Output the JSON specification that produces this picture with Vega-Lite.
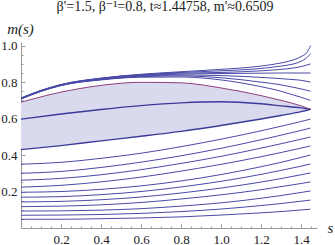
{
  "$schema": "https://vega.github.io/schema/vega-lite/v6.json",
  "width": 296,
  "height": 186,
  "autosize": "none",
  "padding": {"left": 21, "top": 42, "right": 18, "bottom": 17},
  "background": "white",
  "title": {"text": "β'=1.5, β⁻¹=0.8, t≈1.44758, m'≈0.6509", "font": "Liberation Serif, DejaVu Serif, serif", "fontSize": 14, "fontWeight": "normal", "color": "#222222", "anchor": "middle", "frame": "group", "offset": 7, "dx": -4},
  "config": {"view": {"stroke": null}, "axis": {"grid": false}},
  "datasets": {
    "area": [
      {"s": 0, "m": 0.43, "m2": 0.69},
      {"s": 0.2, "m": 0.452, "m2": 0.745},
      {"s": 0.4, "m": 0.478, "m2": 0.782},
      {"s": 0.6, "m": 0.503, "m2": 0.799},
      {"s": 0.8, "m": 0.53, "m2": 0.796},
      {"s": 1.0, "m": 0.562, "m2": 0.768},
      {"s": 1.2, "m": 0.598, "m2": 0.726},
      {"s": 1.3, "m": 0.617, "m2": 0.70},
      {"s": 1.4, "m": 0.638, "m2": 0.67},
      {"s": 1.44758, "m": 0.651, "m2": 0.651}
    ],
    "bound": [
      {"k": "B", "s": 0, "m": 0.43}, {"k": "B", "s": 0.2, "m": 0.452}, {"k": "B", "s": 0.4, "m": 0.478}, {"k": "B", "s": 0.6, "m": 0.503}, {"k": "B", "s": 0.8, "m": 0.53}, {"k": "B", "s": 1.0, "m": 0.562}, {"k": "B", "s": 1.2, "m": 0.598}, {"k": "B", "s": 1.3, "m": 0.617}, {"k": "B", "s": 1.4, "m": 0.638}, {"k": "B", "s": 1.44758, "m": 0.651},
      {"k": "M", "s": 0, "m": 0.597}, {"k": "M", "s": 0.2, "m": 0.625}, {"k": "M", "s": 0.4, "m": 0.65}, {"k": "M", "s": 0.6, "m": 0.671}, {"k": "M", "s": 0.8, "m": 0.686}, {"k": "M", "s": 1.0, "m": 0.692}, {"k": "M", "s": 1.2, "m": 0.681}, {"k": "M", "s": 1.3, "m": 0.67}, {"k": "M", "s": 1.4, "m": 0.659}, {"k": "M", "s": 1.44758, "m": 0.651}
    ],
    "purple": [
      {"s": 0, "m": 0.69}, {"s": 0.2, "m": 0.745}, {"s": 0.4, "m": 0.782}, {"s": 0.6, "m": 0.799}, {"s": 0.8, "m": 0.796}, {"s": 1.0, "m": 0.768}, {"s": 1.2, "m": 0.726}, {"s": 1.3, "m": 0.70}, {"s": 1.4, "m": 0.67}, {"s": 1.44758, "m": 0.651}
    ],
    "upper": [
      {"k": "U1", "s": 0, "m": 0.713}, {"k": "U1", "s": 0.1, "m": 0.755}, {"k": "U1", "s": 0.2, "m": 0.787}, {"k": "U1", "s": 0.4, "m": 0.822}, {"k": "U1", "s": 0.6, "m": 0.843}, {"k": "U1", "s": 0.8, "m": 0.857}, {"k": "U1", "s": 1.0, "m": 0.87}, {"k": "U1", "s": 1.2, "m": 0.888}, {"k": "U1", "s": 1.3, "m": 0.905}, {"k": "U1", "s": 1.36, "m": 0.921}, {"k": "U1", "s": 1.4, "m": 0.94}, {"k": "U1", "s": 1.43, "m": 0.963}, {"k": "U1", "s": 1.44758, "m": 1.0},
      {"k": "U2", "s": 0, "m": 0.712}, {"k": "U2", "s": 0.1, "m": 0.754}, {"k": "U2", "s": 0.2, "m": 0.786}, {"k": "U2", "s": 0.4, "m": 0.821}, {"k": "U2", "s": 0.6, "m": 0.841}, {"k": "U2", "s": 0.8, "m": 0.853}, {"k": "U2", "s": 1.0, "m": 0.862}, {"k": "U2", "s": 1.2, "m": 0.875}, {"k": "U2", "s": 1.3, "m": 0.888}, {"k": "U2", "s": 1.36, "m": 0.899}, {"k": "U2", "s": 1.4, "m": 0.914}, {"k": "U2", "s": 1.43, "m": 0.935}, {"k": "U2", "s": 1.44758, "m": 0.956},
      {"k": "U3", "s": 0, "m": 0.711}, {"k": "U3", "s": 0.1, "m": 0.753}, {"k": "U3", "s": 0.2, "m": 0.785}, {"k": "U3", "s": 0.4, "m": 0.82}, {"k": "U3", "s": 0.6, "m": 0.839}, {"k": "U3", "s": 0.8, "m": 0.849}, {"k": "U3", "s": 1.0, "m": 0.853}, {"k": "U3", "s": 1.2, "m": 0.862}, {"k": "U3", "s": 1.3, "m": 0.87}, {"k": "U3", "s": 1.36, "m": 0.877}, {"k": "U3", "s": 1.4, "m": 0.885}, {"k": "U3", "s": 1.43, "m": 0.894}, {"k": "U3", "s": 1.44758, "m": 0.9},
      {"k": "U4", "s": 0, "m": 0.71}, {"k": "U4", "s": 0.1, "m": 0.752}, {"k": "U4", "s": 0.2, "m": 0.784}, {"k": "U4", "s": 0.4, "m": 0.818}, {"k": "U4", "s": 0.6, "m": 0.836}, {"k": "U4", "s": 0.8, "m": 0.844}, {"k": "U4", "s": 1.0, "m": 0.847}, {"k": "U4", "s": 1.2, "m": 0.849}, {"k": "U4", "s": 1.3, "m": 0.85}, {"k": "U4", "s": 1.36, "m": 0.85}, {"k": "U4", "s": 1.4, "m": 0.85}, {"k": "U4", "s": 1.43, "m": 0.85}, {"k": "U4", "s": 1.44758, "m": 0.85},
      {"k": "U5", "s": 0, "m": 0.709}, {"k": "U5", "s": 0.1, "m": 0.751}, {"k": "U5", "s": 0.2, "m": 0.783}, {"k": "U5", "s": 0.4, "m": 0.816}, {"k": "U5", "s": 0.6, "m": 0.833}, {"k": "U5", "s": 0.8, "m": 0.839}, {"k": "U5", "s": 1.0, "m": 0.836}, {"k": "U5", "s": 1.2, "m": 0.826}, {"k": "U5", "s": 1.3, "m": 0.819}, {"k": "U5", "s": 1.36, "m": 0.814}, {"k": "U5", "s": 1.4, "m": 0.81}, {"k": "U5", "s": 1.43, "m": 0.804}, {"k": "U5", "s": 1.44758, "m": 0.8},
      {"k": "U6", "s": 0, "m": 0.708}, {"k": "U6", "s": 0.1, "m": 0.75}, {"k": "U6", "s": 0.2, "m": 0.782}, {"k": "U6", "s": 0.4, "m": 0.814}, {"k": "U6", "s": 0.6, "m": 0.83}, {"k": "U6", "s": 0.8, "m": 0.834}, {"k": "U6", "s": 1.0, "m": 0.824}, {"k": "U6", "s": 1.2, "m": 0.8}, {"k": "U6", "s": 1.3, "m": 0.785}, {"k": "U6", "s": 1.36, "m": 0.772}, {"k": "U6", "s": 1.4, "m": 0.763}, {"k": "U6", "s": 1.43, "m": 0.755}, {"k": "U6", "s": 1.44758, "m": 0.75},
      {"k": "U7", "s": 0, "m": 0.707}, {"k": "U7", "s": 0.1, "m": 0.749}, {"k": "U7", "s": 0.2, "m": 0.781}, {"k": "U7", "s": 0.4, "m": 0.812}, {"k": "U7", "s": 0.6, "m": 0.827}, {"k": "U7", "s": 0.8, "m": 0.828}, {"k": "U7", "s": 1.0, "m": 0.812}, {"k": "U7", "s": 1.2, "m": 0.775}, {"k": "U7", "s": 1.3, "m": 0.75}, {"k": "U7", "s": 1.36, "m": 0.73}, {"k": "U7", "s": 1.4, "m": 0.717}, {"k": "U7", "s": 1.43, "m": 0.706}, {"k": "U7", "s": 1.44758, "m": 0.7}
    ],
    "lower": [
      {"k": "L1", "s": 0, "m": 0.35}, {"k": "L1", "s": 0.2, "m": 0.36}, {"k": "L1", "s": 0.4, "m": 0.382}, {"k": "L1", "s": 0.6, "m": 0.41}, {"k": "L1", "s": 0.8, "m": 0.446}, {"k": "L1", "s": 1.0, "m": 0.487}, {"k": "L1", "s": 1.2, "m": 0.533}, {"k": "L1", "s": 1.3, "m": 0.558}, {"k": "L1", "s": 1.4, "m": 0.584}, {"k": "L1", "s": 1.44758, "m": 0.597},
      {"k": "L2", "s": 0, "m": 0.30}, {"k": "L2", "s": 0.2, "m": 0.31}, {"k": "L2", "s": 0.4, "m": 0.332}, {"k": "L2", "s": 0.6, "m": 0.361}, {"k": "L2", "s": 0.8, "m": 0.396}, {"k": "L2", "s": 1.0, "m": 0.437}, {"k": "L2", "s": 1.2, "m": 0.484}, {"k": "L2", "s": 1.3, "m": 0.509}, {"k": "L2", "s": 1.4, "m": 0.535}, {"k": "L2", "s": 1.44758, "m": 0.548},
      {"k": "L3", "s": 0, "m": 0.262}, {"k": "L3", "s": 0.2, "m": 0.272}, {"k": "L3", "s": 0.4, "m": 0.292}, {"k": "L3", "s": 0.6, "m": 0.32}, {"k": "L3", "s": 0.8, "m": 0.354}, {"k": "L3", "s": 1.0, "m": 0.393}, {"k": "L3", "s": 1.2, "m": 0.438}, {"k": "L3", "s": 1.3, "m": 0.462}, {"k": "L3", "s": 1.4, "m": 0.487}, {"k": "L3", "s": 1.44758, "m": 0.499},
      {"k": "L4", "s": 0, "m": 0.224}, {"k": "L4", "s": 0.2, "m": 0.234}, {"k": "L4", "s": 0.4, "m": 0.253}, {"k": "L4", "s": 0.6, "m": 0.279}, {"k": "L4", "s": 0.8, "m": 0.312}, {"k": "L4", "s": 1.0, "m": 0.349}, {"k": "L4", "s": 1.2, "m": 0.391}, {"k": "L4", "s": 1.3, "m": 0.414}, {"k": "L4", "s": 1.4, "m": 0.438}, {"k": "L4", "s": 1.44758, "m": 0.45},
      {"k": "L5", "s": 0, "m": 0.196}, {"k": "L5", "s": 0.2, "m": 0.2}, {"k": "L5", "s": 0.4, "m": 0.212}, {"k": "L5", "s": 0.6, "m": 0.231}, {"k": "L5", "s": 0.8, "m": 0.258}, {"k": "L5", "s": 1.0, "m": 0.293}, {"k": "L5", "s": 1.2, "m": 0.336}, {"k": "L5", "s": 1.3, "m": 0.36}, {"k": "L5", "s": 1.4, "m": 0.387}, {"k": "L5", "s": 1.44758, "m": 0.4},
      {"k": "L6", "s": 0, "m": 0.169}, {"k": "L6", "s": 0.2, "m": 0.172}, {"k": "L6", "s": 0.4, "m": 0.183}, {"k": "L6", "s": 0.6, "m": 0.2}, {"k": "L6", "s": 0.8, "m": 0.225}, {"k": "L6", "s": 1.0, "m": 0.256}, {"k": "L6", "s": 1.2, "m": 0.294}, {"k": "L6", "s": 1.3, "m": 0.316}, {"k": "L6", "s": 1.4, "m": 0.339}, {"k": "L6", "s": 1.44758, "m": 0.351},
      {"k": "L7", "s": 0, "m": 0.143}, {"k": "L7", "s": 0.2, "m": 0.146}, {"k": "L7", "s": 0.4, "m": 0.155}, {"k": "L7", "s": 0.6, "m": 0.17}, {"k": "L7", "s": 0.8, "m": 0.192}, {"k": "L7", "s": 1.0, "m": 0.219}, {"k": "L7", "s": 1.2, "m": 0.252}, {"k": "L7", "s": 1.3, "m": 0.271}, {"k": "L7", "s": 1.4, "m": 0.292}, {"k": "L7", "s": 1.44758, "m": 0.302},
      {"k": "L8", "s": 0, "m": 0.117}, {"k": "L8", "s": 0.2, "m": 0.12}, {"k": "L8", "s": 0.4, "m": 0.127}, {"k": "L8", "s": 0.6, "m": 0.14}, {"k": "L8", "s": 0.8, "m": 0.159}, {"k": "L8", "s": 1.0, "m": 0.182}, {"k": "L8", "s": 1.2, "m": 0.21}, {"k": "L8", "s": 1.3, "m": 0.227}, {"k": "L8", "s": 1.4, "m": 0.244}, {"k": "L8", "s": 1.44758, "m": 0.253},
      {"k": "L9", "s": 0, "m": 0.093}, {"k": "L9", "s": 0.2, "m": 0.094}, {"k": "L9", "s": 0.4, "m": 0.098}, {"k": "L9", "s": 0.6, "m": 0.106}, {"k": "L9", "s": 0.8, "m": 0.12}, {"k": "L9", "s": 1.0, "m": 0.138}, {"k": "L9", "s": 1.2, "m": 0.163}, {"k": "L9", "s": 1.3, "m": 0.178}, {"k": "L9", "s": 1.4, "m": 0.195}, {"k": "L9", "s": 1.44758, "m": 0.203},
      {"k": "L10", "s": 0, "m": 0.07}, {"k": "L10", "s": 0.2, "m": 0.071}, {"k": "L10", "s": 0.4, "m": 0.074}, {"k": "L10", "s": 0.6, "m": 0.08}, {"k": "L10", "s": 0.8, "m": 0.09}, {"k": "L10", "s": 1.0, "m": 0.104}, {"k": "L10", "s": 1.2, "m": 0.123}, {"k": "L10", "s": 1.3, "m": 0.134}, {"k": "L10", "s": 1.4, "m": 0.147}, {"k": "L10", "s": 1.44758, "m": 0.153},
      {"k": "L11", "s": 0, "m": 0.048}, {"k": "L11", "s": 0.2, "m": 0.048}, {"k": "L11", "s": 0.4, "m": 0.051}, {"k": "L11", "s": 0.6, "m": 0.055}, {"k": "L11", "s": 0.8, "m": 0.061}, {"k": "L11", "s": 1.0, "m": 0.071}, {"k": "L11", "s": 1.2, "m": 0.083}, {"k": "L11", "s": 1.3, "m": 0.09}, {"k": "L11", "s": 1.4, "m": 0.099}, {"k": "L11", "s": 1.44758, "m": 0.103}
    ]
  },
  "encoding": {
    "x": {"field": "s", "type": "quantitative", "scale": {"domain": [0, 1.48], "nice": false, "zero": false},
      "axis": {"values": [0.05,0.1,0.15,0.2,0.25,0.3,0.35,0.4,0.45,0.5,0.55,0.6,0.65,0.7,0.75,0.8,0.85,0.9,0.95,1.0,1.05,1.1,1.15,1.2,1.25,1.3,1.35,1.4,1.45],
        "format": ".1f",
        "labelExpr": "round(datum.value*100) % 20 == 0 ? datum.label : ''",
        "labelFont": "Liberation Serif, DejaVu Serif, serif", "labelFontSize": 13, "labelColor": "#222222", "labelPadding": 9,
        "tickSize": {"condition": {"test": "round(datum.value*100) % 20 == 0", "value": -4}, "value": -2},
        "tickColor": "#999999", "domainColor": "#999999", "tickWidth": 1, "domainWidth": 1,
        "title": "s", "titleFont": "Liberation Serif, DejaVu Serif, serif", "titleFontStyle": "italic", "titleFontWeight": "normal", "titleFontSize": 15, "titleColor": "#222222",
        "titleX": 309, "titleY": 4, "titleAlign": "center", "titleBaseline": "alphabetic", "titleAngle": 0}},
    "y": {"field": "m", "type": "quantitative", "scale": {"domain": [0, 1.02], "nice": false},
      "axis": {"values": [0.05,0.1,0.15,0.2,0.25,0.3,0.35,0.4,0.45,0.5,0.55,0.6,0.65,0.7,0.75,0.8,0.85,0.9,0.95,1.0],
        "format": ".1f",
        "labelExpr": "round(datum.value*100) % 20 == 0 ? datum.label : ''",
        "labelFont": "Liberation Serif, DejaVu Serif, serif", "labelFontSize": 13, "labelColor": "#222222", "labelPadding": 8,
        "tickSize": {"condition": {"test": "round(datum.value*100) % 20 == 0", "value": -4}, "value": -2},
        "tickColor": "#999999", "domainColor": "#999999", "tickWidth": 1, "domainWidth": 1,
        "title": "m(s)", "titleFont": "Liberation Serif, DejaVu Serif, serif", "titleFontStyle": "italic", "titleFontWeight": "normal", "titleFontSize": 15, "titleColor": "#222222",
        "titleX": -1, "titleY": -9, "titleAlign": "center", "titleBaseline": "alphabetic", "titleAngle": 0}}
  },
  "layer": [
    {
      "data": {"name": "area"},
      "mark": {"type": "area", "interpolate": "monotone", "color": "#dadaee", "opacity": 1},
      "encoding": {"y2": {"field": "m2"}}
    },
    {
      "data": {"name": "lower"},
      "mark": {"type": "line", "interpolate": "monotone", "color": "#4a4aa8", "strokeWidth": 1},
      "encoding": {"detail": {"field": "k"}}
    },
    {
      "data": {"name": "upper"},
      "mark": {"type": "line", "interpolate": "monotone", "color": "#4a4aa8", "strokeWidth": 1},
      "encoding": {"detail": {"field": "k"}}
    },
    {
      "data": {"name": "bound"},
      "mark": {"type": "line", "interpolate": "monotone", "color": "#3a3a9a", "strokeWidth": 1.4},
      "encoding": {"detail": {"field": "k"}}
    },
    {
      "data": {"name": "purple"},
      "mark": {"type": "line", "interpolate": "monotone", "color": "#8e3f7c", "strokeWidth": 1},
      "encoding": {}
    }
  ]
}
